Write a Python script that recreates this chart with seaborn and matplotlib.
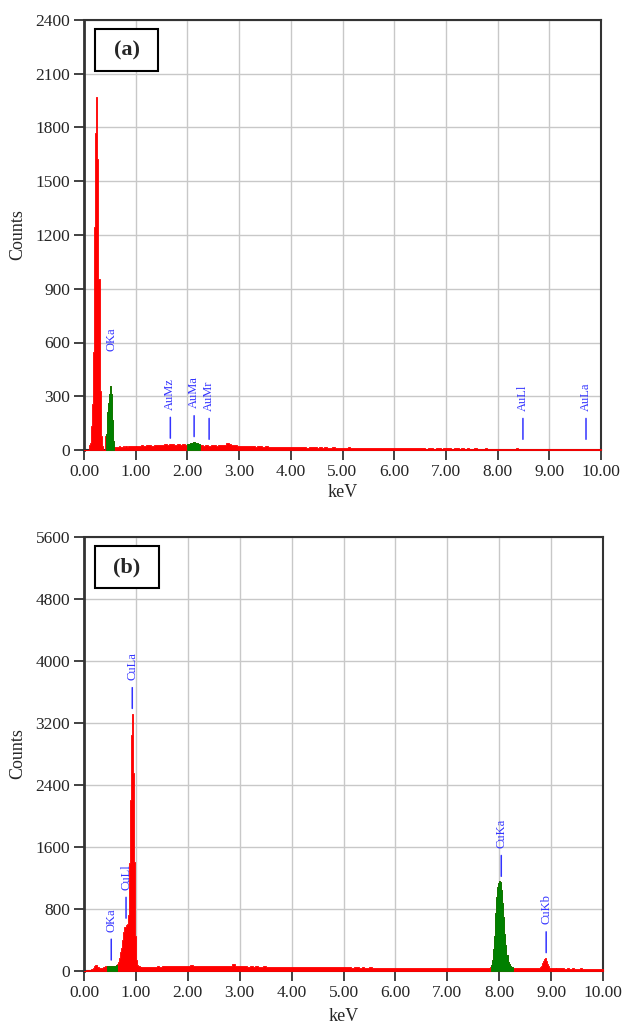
import numpy as np
import pandas as pd
import seaborn as sns
import matplotlib.pyplot as plt
from matplotlib.patches import Rectangle
from matplotlib.ticker import FormatStrFormatter

RED = "#ff0000"
GREEN = "#008000"
BLUE = "#3333ff"

# ---------------- panel (a) : EDS spectrum ----------------
# 0.00 - 1.00 keV, 0.02 keV channels
a_low_start, a_low_width = 0.0, 0.02
a_low_counts = [0, 0, 0, 0, 0, 30, 40, 135, 255, 545,
                1245, 1770, 1970, 1625, 955, 330, 80, 25, 0, 0,
                80, 90, 210, 265, 310, 360, 310, 165, 52, 16,
                16, 18, 15, 17, 20, 18, 16, 19, 21, 18,
                20, 22, 19, 21, 23, 20, 22, 24, 21, 23]
# 1.00 - 10.00 keV, 0.05 keV channels
a_high_start, a_high_width = 1.0, 0.05
a_high_counts = [24, 22, 26, 25, 28, 27, 25, 29, 26, 28,
                 30, 33, 28, 35, 32, 30, 34, 29, 31, 27,
                 32, 38, 44, 40, 35,
                 26, 25, 28, 24, 27, 26, 25, 29, 27, 30, 38, 32, 28, 26, 24,
                 22, 24, 21, 23, 20, 22, 19, 21, 20, 18, 20, 19, 17, 19, 18, 16, 18, 17, 15, 17,
                 16, 15, 17, 14, 16, 15, 13, 15, 14, 16, 13, 14, 12, 14, 13, 12, 14, 11, 13, 12,
                 13, 12, 14, 11, 13, 12, 11, 13, 10, 12, 11, 10, 12, 11, 9, 11, 10, 9, 11, 10,
                 10, 11, 12, 10, 9, 11, 10, 9, 11, 10, 9, 10, 8, 10, 9, 8, 10, 9, 8, 9,
                 9, 10, 8, 9, 10, 8, 9, 8, 9, 7, 8, 9, 8, 7, 8, 9, 7, 8, 7, 8,
                 7, 8, 6, 7, 8, 6, 7, 9, 6, 7, 6, 8, 7, 6, 7, 6, 8, 6, 7, 6,
                 6, 7, 6, 8, 6, 7, 6, 7, 5, 6, 7, 6, 6, 7, 5, 6, 7, 6, 5, 6]
a_green_ranges = [(0.42, 0.58), (2.00, 2.25)]
a_label_names = ["OKa", "AuMz", "AuMa", "AuMr", "AuLl", "AuLa"]
a_label_keV = [0.525, 1.67, 2.13, 2.42, 8.49, 9.71]
a_label_marker = [False, True, True, True, True, True]

# ---------------- panel (b) : EDS spectrum ----------------
b_low_start, b_low_width = 0.0, 0.02
b_low_counts = [3, 5, 8, 10, 12, 15, 18, 22, 28, 40,
                60, 78, 72, 55, 42, 35, 38, 45, 52, 58,
                60, 62, 65, 66, 68, 70, 68, 67, 66, 68,
                70, 72, 90, 110, 170, 240, 300, 400, 500, 570,
                590, 610, 720, 1390, 2200, 3045, 3316, 2555, 1400, 450,
                140, 80, 65, 60, 58]
b_mid_start, b_mid_width = 1.10, 0.05
b_mid_counts = [55, 52, 56, 54, 58, 55, 60, 57, 62, 59, 61, 63, 60, 64, 62, 66, 63, 65,
                68, 72, 70, 66, 64, 67, 63, 65, 62, 64, 61, 63, 60, 62, 64, 61, 63, 85, 62, 60,
                61, 59, 62, 58, 60, 57, 59, 56, 58, 60, 57, 55, 58, 56, 54, 57, 55, 53, 56, 54,
                55, 53, 52, 54, 51, 53, 50, 52, 54, 51, 49, 52, 50, 48, 51, 49, 47, 50, 48, 46,
                48, 46, 47, 45, 49, 46, 44, 47, 45, 43, 46, 44, 42, 45, 43, 41, 44, 42, 40, 43,
                42, 40, 43, 41, 39, 42, 40, 38, 41, 39, 40, 38, 37, 40, 38, 36, 39, 37, 38, 36,
                37, 38, 36, 39, 37, 35, 38, 36, 39, 37, 40, 38, 41, 40, 42, 44]
b_ka_start, b_ka_width = 7.80, 0.02
b_ka_counts = [45, 55, 80, 140, 280, 450, 750, 950, 1080, 1130,
               1165, 1150, 1045, 880, 700, 480, 330, 200, 120, 90,
               70, 55, 50, 42,
               40, 38, 41, 39, 37, 40, 38, 36, 39, 37, 38, 36,
               39, 37, 35, 38, 36, 37, 35, 38, 36, 37, 39, 38,
               40, 50, 70, 100, 130, 160, 165, 130, 90, 60, 45,
               38, 36, 37, 35, 36, 34]
b_tail_start, b_tail_width = 9.10, 0.05
b_tail_counts = [35, 33, 34, 32, 34, 31, 33, 32, 30, 33, 31, 32, 30, 31, 29, 32, 30, 28]
b_green_ranges = [(0.44, 0.64), (7.84, 8.26)]
b_label_names = ["OKa", "CuLl", "CuLa", "CuKa", "CuKb"]
b_label_keV = [0.525, 0.81, 0.93, 8.04, 8.905]
b_label_marker = [True, True, True, True, True]


def segment_frame(start, width, counts):
    n = len(counts)
    return pd.DataFrame({"keV": start + (np.arange(n) + 0.5) * width, "counts": counts})


def draw_spectrum(ax, segments, green_ranges):
    frames = []
    for start, width, counts in segments:
        df = segment_frame(start, width, counts)
        frames.append(df)
        n = len(df)
        sns.histplot(data=df, x="keV", weights="counts", bins=n, binrange=(start, start + n * width),
                     element="step", fill=True, color=RED, edgecolor=RED, alpha=1, linewidth=0.6,
                     zorder=2.6, ax=ax)
        for lo, hi in green_ranges:
            sub = df[(df["keV"] > lo) & (df["keV"] < hi)]
            if len(sub) == 0:
                continue
            sns.histplot(data=sub, x="keV", weights="counts", bins=len(sub),
                         binrange=(sub["keV"].min() - width / 2, sub["keV"].max() + width / 2),
                         element="step", fill=True, color=GREEN, edgecolor=GREEN, alpha=1,
                         linewidth=0.6, zorder=2.7, ax=ax)
    return pd.concat(frames, ignore_index=True)


def draw_labels(ax, spec, names, energies, markers, ymax):
    for name, e, mark in zip(names, energies, markers):
        near = spec[(spec["keV"] - e).abs() <= 0.0201]["counts"]
        base = max(near.max() if len(near) else 0, 0.012 * ymax)
        if mark:
            ax.annotate("", xy=(e, base), xytext=(0, 19), textcoords="offset points",
                        arrowprops=dict(arrowstyle="-", color=BLUE, lw=1.1, shrinkA=0, shrinkB=4))
        ax.annotate(name, xy=(e, base), xytext=(0, 24.5), textcoords="offset points",
                    rotation=90, ha="center", va="bottom", color=BLUE, fontsize=9)


def style_axes(ax, ymax, ystep, tag, xlab_y):
    ax.set_xlim(0, 10)
    ax.set_ylim(0, ymax)
    ax.set_xticks(np.arange(0, 10.5, 1))
    ax.set_yticks(np.arange(0, ymax + 1, ystep))
    ax.xaxis.set_major_formatter(FormatStrFormatter("%.2f"))
    ax.grid(True, color="#c8c8c8", linewidth=1)
    ax.set_axisbelow(True)
    ax.tick_params(direction="out", length=7, width=1.3, color="#333333", labelsize=12.5,
                   pad=3, bottom=True, left=True, top=False, right=False)
    for s in ax.spines.values():
        s.set_color("#333333")
        s.set_linewidth(1.5)
    ax.spines["left"].set_linewidth(2)
    ax.set_xlabel("keV", fontsize=13)
    ax.set_ylabel("Counts", fontsize=13)
    ax.yaxis.set_label_coords(-0.112, 0.5)
    ax.xaxis.set_label_coords(0.5, xlab_y)
    ax.add_patch(Rectangle((0.022, 0.882), 0.122, 0.097, transform=ax.transAxes,
                           facecolor="white", edgecolor="black", linewidth=1.5, zorder=5))
    ax.text(0.083, 0.93, tag, transform=ax.transAxes, ha="center", va="center",
            fontsize=16, fontweight="bold", zorder=6)


sns.set_style("ticks")
plt.rcParams["font.family"] = ["Liberation Serif", "DejaVu Serif"]

fig = plt.figure(figsize=(6.26, 10.28), dpi=100)
ax_a = fig.add_axes([84 / 626, 1 - 450 / 1028, 517 / 626, 430 / 1028])
ax_b = fig.add_axes([84 / 626, 1 - 971 / 1028, 519 / 626, 434 / 1028])

spec_a = draw_spectrum(ax_a, [(a_low_start, a_low_width, a_low_counts),
                              (a_high_start, a_high_width, a_high_counts)], a_green_ranges)
style_axes(ax_a, 2400, 300, "(a)", -0.08)
draw_labels(ax_a, spec_a, a_label_names, a_label_keV, a_label_marker, 2400)

spec_b = draw_spectrum(ax_b, [(b_low_start, b_low_width, b_low_counts),
                              (b_mid_start, b_mid_width, b_mid_counts),
                              (b_ka_start, b_ka_width, b_ka_counts),
                              (b_tail_start, b_tail_width, b_tail_counts)], b_green_ranges)
style_axes(ax_b, 5600, 800, "(b)", -0.085)
draw_labels(ax_b, spec_b, b_label_names, b_label_keV, b_label_marker, 5600)

fig.savefig("out.png", dpi=100)
